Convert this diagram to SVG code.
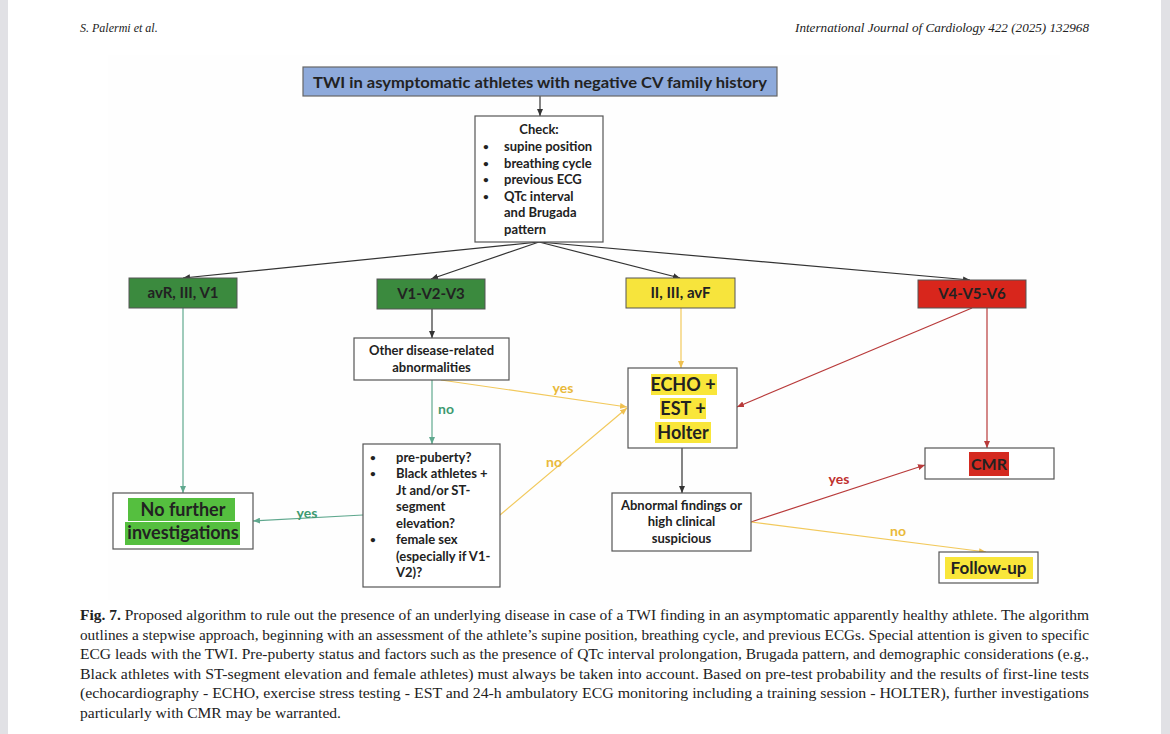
<svg xmlns="http://www.w3.org/2000/svg" width="1170" height="734" viewBox="0 0 1170 734">
<defs>
<style>
.bx{fill:#fff;stroke:#555;stroke-width:1.2}
.t{font-family:Lato,"Open Sans","Liberation Sans",sans-serif;font-weight:bold;fill:#222;text-anchor:middle}
.tl{font-family:Lato,"Open Sans","Liberation Sans",sans-serif;font-weight:bold;fill:#222}
.bu{font-size:10px}
.c{fill:none;stroke-width:1.2}
.k{stroke:#333}
.g{stroke:#5fa88e}
.y{stroke:#f2c95c}
.r{stroke:#b83a3a}
.cap{font-family:"Liberation Serif","Times New Roman",serif;font-size:14px;fill:#222}
.hd{font-family:"Liberation Serif","Times New Roman",serif;font-style:italic;font-size:12px;fill:#222}
.lbl{font-family:Lato,"Open Sans","Liberation Sans",sans-serif;font-weight:bold;font-size:14px;text-anchor:middle}
</style>
<marker id="ak" markerWidth="7" markerHeight="6" refX="7" refY="3" orient="auto" markerUnits="userSpaceOnUse"><path d="M0,0 L7,3 L0,6 z" fill="#333"/></marker>
<marker id="ag" markerWidth="7" markerHeight="6" refX="7" refY="3" orient="auto" markerUnits="userSpaceOnUse"><path d="M0,0 L7,3 L0,6 z" fill="#5fa88e"/></marker>
<marker id="ay" markerWidth="7" markerHeight="6" refX="7" refY="3" orient="auto" markerUnits="userSpaceOnUse"><path d="M0,0 L7,3 L0,6 z" fill="#efc050"/></marker>
<marker id="ar" markerWidth="7" markerHeight="6" refX="7" refY="3" orient="auto" markerUnits="userSpaceOnUse"><path d="M0,0 L7,3 L0,6 z" fill="#b83a3a"/></marker>
</defs>
<rect x="0" y="0" width="1170" height="734" fill="#fff"/>
<rect x="0" y="0" width="8" height="734" fill="#e1e1e5"/>
<rect x="1161" y="0" width="9" height="734" fill="#e1e1e5"/>
<rect x="108" y="55" width="952" height="545" fill="#fefefe"/>

<g id="header">
<text class="hd" x="80" y="32">S. Palermi et al.</text>
<text class="hd" x="1089" y="32" text-anchor="end" textLength="294" lengthAdjust="spacingAndGlyphs">International Journal of Cardiology 422 (2025) 132968</text>
</g>

<g id="connectors">
<line class="c k" x1="540" y1="96" x2="540" y2="116" marker-end="url(#ak)"/>
<line class="c k" x1="539" y1="242" x2="183" y2="278" marker-end="url(#ak)"/>
<line class="c k" x1="539" y1="242" x2="431" y2="279" marker-end="url(#ak)"/>
<line class="c k" x1="539" y1="242" x2="680" y2="278" marker-end="url(#ak)"/>
<line class="c k" x1="539" y1="242" x2="970" y2="280" marker-end="url(#ak)"/>
<line class="c k" x1="432" y1="309" x2="432" y2="338" marker-end="url(#ak)"/>
<line class="c k" x1="682" y1="448" x2="682" y2="493" marker-end="url(#ak)"/>
<line class="c g" x1="183" y1="308" x2="183" y2="493" marker-end="url(#ag)"/>
<line class="c g" x1="432" y1="380" x2="432" y2="444" marker-end="url(#ag)"/>
<line class="c g" x1="363" y1="515" x2="253" y2="521" marker-end="url(#ag)"/>
<line class="c y" x1="681" y1="308" x2="681" y2="368" marker-end="url(#ay)"/>
<line class="c y" x1="441" y1="380" x2="627" y2="407" marker-end="url(#ay)"/>
<line class="c y" x1="500" y1="515" x2="627" y2="408" marker-end="url(#ay)"/>
<line class="c r" x1="972" y1="308" x2="737" y2="407" marker-end="url(#ar)"/>
<line class="c r" x1="987" y1="308" x2="987" y2="448" marker-end="url(#ar)"/>
<line class="c r" x1="751" y1="522" x2="925" y2="465" marker-end="url(#ar)"/>
<line class="c y" x1="751" y1="522" x2="986" y2="552" marker-end="url(#ay)"/>
<text class="lbl" x="563" y="393" fill="#e9b93a">yes</text>
<text class="lbl" x="446" y="414" fill="#3d9a70">no</text>
<text class="lbl" x="554" y="467" fill="#e9b93a">no</text>
<text class="lbl" x="307" y="518" fill="#3d9a70">yes</text>
<text class="lbl" x="839" y="484" fill="#c0302f">yes</text>
<text class="lbl" x="898" y="536" fill="#e9b93a">no</text>
</g>

<g id="n-top">
<rect x="303" y="67" width="474" height="29" fill="#8eaadb" stroke="#666" stroke-width="1.2"/>
<text class="t" x="540" y="87.5" font-size="16" textLength="454" lengthAdjust="spacingAndGlyphs">TWI in asymptomatic athletes with negative CV family history</text>
</g>

<g id="n-check">
<rect class="bx" x="475" y="116" width="128" height="126"/>
<text class="t" x="539" y="133.5" font-size="13">Check:</text>
<g class="tl" font-size="13">
<text class="bu" x="483" y="150">•</text><text x="504" y="151">supine position</text>
<text class="bu" x="483" y="166.5">•</text><text x="504" y="167.5">breathing cycle</text>
<text class="bu" x="483" y="183">•</text><text x="504" y="184">previous ECG</text>
<text class="bu" x="483" y="199.5">•</text><text x="504" y="200.5">QTc interval</text>
<text x="504" y="217">and Brugada</text>
<text x="504" y="233.5">pattern</text>
</g>
</g>

<g id="n-avr">
<rect x="129" y="278" width="108" height="30" fill="#3b8a3e" stroke="#555" stroke-width="1"/>
<text class="t" x="183" y="298" font-size="15">avR, III, V1</text>
</g>
<g id="n-v123">
<rect x="377" y="279" width="108" height="30" fill="#3b8a3e" stroke="#555" stroke-width="1"/>
<text class="t" x="431" y="299" font-size="15">V1-V2-V3</text>
</g>
<g id="n-inf">
<rect x="626" y="278" width="109" height="30" fill="#f7e43c" stroke="#555" stroke-width="1"/>
<text class="t" x="680.5" y="298" font-size="15">II, III, avF</text>
</g>
<g id="n-v456">
<rect x="918" y="280" width="108" height="28" fill="#d8261c" stroke="#555" stroke-width="1"/>
<text class="t" x="972" y="299" font-size="15" fill="#3a1414">V4-V5-V6</text>
</g>

<g id="n-other">
<rect class="bx" x="354" y="338" width="155" height="42"/>
<text class="t" x="431.5" y="355" font-size="13">Other disease-related</text>
<text class="t" x="431.5" y="372" font-size="13">abnormalities</text>
</g>

<g id="n-echo">
<rect class="bx" x="628" y="368" width="109" height="80"/>
<rect x="651" y="374" width="66" height="21" fill="#f9e63a"/>
<rect x="660" y="398" width="46" height="21" fill="#f9e63a"/>
<rect x="655" y="422" width="56" height="21" fill="#f9e63a"/>
<text class="t" x="683" y="391" font-size="18">ECHO +</text>
<text class="t" x="683" y="415" font-size="18">EST +</text>
<text class="t" x="683" y="439" font-size="18">Holter</text>
</g>

<g id="n-cmr">
<rect class="bx" x="925" y="448" width="129" height="31"/>
<rect x="969" y="452" width="40" height="24" fill="#d42a20"/>
<text class="t" x="989" y="470" font-size="16" fill="#3a1414">CMR</text>
</g>

<g id="n-nofurther">
<rect class="bx" x="113" y="493" width="140" height="56"/>
<rect x="128" y="498" width="107" height="23" fill="#55bf3f"/>
<rect x="125" y="522" width="115" height="23" fill="#55bf3f"/>
<text class="t" x="183" y="516" font-size="18">No further</text>
<text class="t" x="183" y="539" font-size="18">investigations</text>
</g>

<g id="n-prepuberty">
<rect class="bx" x="363" y="444" width="137" height="143"/>
<g class="tl" font-size="13">
<text class="bu" x="370" y="460.5">•</text><text x="396" y="461.5">pre-puberty?</text>
<text class="bu" x="370" y="477">•</text><text x="396" y="478">Black athletes +</text>
<text x="396" y="494.5">Jt and/or ST-</text>
<text x="396" y="511">segment</text>
<text x="396" y="527.5">elevation?</text>
<text class="bu" x="370" y="543">•</text><text x="396" y="544">female sex</text>
<text x="396" y="560.5">(especially if V1-</text>
<text x="396" y="577">V2)?</text>
</g>
</g>

<g id="n-abnormal">
<rect class="bx" x="612" y="493" width="139" height="58"/>
<text class="t" x="681.5" y="509.5" font-size="13">Abnormal findings or</text>
<text class="t" x="681.5" y="526" font-size="13">high clinical</text>
<text class="t" x="681.5" y="542.5" font-size="13">suspicious</text>
</g>

<g id="n-followup">
<rect class="bx" x="939" y="552" width="99" height="31"/>
<rect x="945" y="557" width="88" height="22" fill="#f9e63a"/>
<text class="t" x="988.5" y="574" font-size="17">Follow-up</text>
</g>

<g id="caption">
<text class="cap" x="80" y="620" textLength="1009" lengthAdjust="spacingAndGlyphs"><tspan font-weight="bold">Fig. 7.</tspan> Proposed algorithm to rule out the presence of an underlying disease in case of a TWI finding in an asymptomatic apparently healthy athlete. The algorithm</text>
<text class="cap" x="80" y="639.5" textLength="1009" lengthAdjust="spacingAndGlyphs">outlines a stepwise approach, beginning with an assessment of the athlete’s supine position, breathing cycle, and previous ECGs. Special attention is given to specific</text>
<text class="cap" x="80" y="659" textLength="1009" lengthAdjust="spacingAndGlyphs">ECG leads with the TWI. Pre-puberty status and factors such as the presence of QTc interval prolongation, Brugada pattern, and demographic considerations (e.g.,</text>
<text class="cap" x="80" y="678.5" textLength="1009" lengthAdjust="spacingAndGlyphs">Black athletes with ST-segment elevation and female athletes) must always be taken into account. Based on pre-test probability and the results of first-line tests</text>
<text class="cap" x="80" y="698" textLength="1009" lengthAdjust="spacingAndGlyphs">(echocardiography - ECHO, exercise stress testing - EST and 24-h ambulatory ECG monitoring including a training session - HOLTER), further investigations</text>
<text class="cap" x="80" y="717.5" textLength="261" lengthAdjust="spacingAndGlyphs">particularly with CMR may be warranted.</text>
</g>
</svg>
